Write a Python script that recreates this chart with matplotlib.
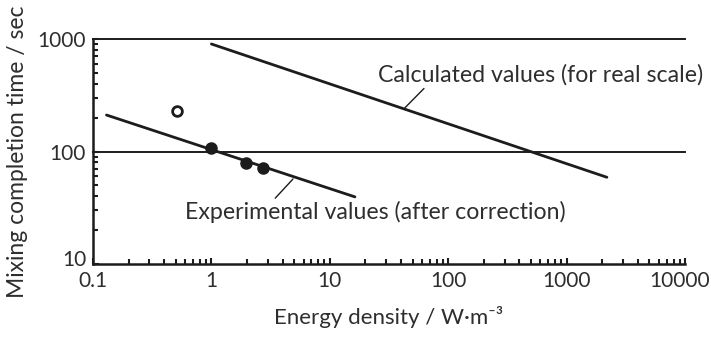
import matplotlib
matplotlib.use('Agg')
import matplotlib.pyplot as plt
from matplotlib.ticker import LogLocator, FixedLocator, NullFormatter
import matplotlib.transforms as mtransforms

# data (log-log)
calc_x = [1.0, 2190.0]
calc_y = [903.0, 59.0]

exp_line_x = [0.13, 16.3]
exp_line_y = [211.0, 39.5]

exp_pts_x = [0.99, 1.95, 2.74]
exp_pts_y = [108.0, 78.5, 71.8]

outlier_x = [0.51]
outlier_y = [229.0]

x_ticks = [0.1, 1, 10, 100, 1000, 10000]
x_labels = ['0.1', '1', '10', '100', '1000', '10000']
y_ticks = [10, 100, 1000]
y_labels = ['10', '100', '1000']

ink = '#1c1c1c'
txt = '#2e2e2e'
plt.rcParams['font.family'] = ['Lato', 'DejaVu Sans']

fig = plt.figure(figsize=(7.11, 3.38), dpi=100)
ax = fig.add_axes([93 / 711, 74 / 338, 592 / 711, 225 / 338])
ax.set_xscale('log')
ax.set_yscale('log')
ax.set_xlim(0.1, 10000)
ax.set_ylim(10, 1000)

for yv in (100, 1000):
    ax.axhline(yv, color=ink, lw=1.4, clip_on=False, zorder=1)

ax.plot(calc_x, calc_y, color=ink, lw=2.0, solid_capstyle='round')
ax.plot(exp_line_x, exp_line_y, color=ink, lw=2.0, solid_capstyle='round')
ax.plot(exp_pts_x, exp_pts_y, 'o', color=ink, ms=8)
ax.plot(outlier_x, outlier_y, 'o', mfc='white', mec=ink, mew=2, ms=7)

ax.annotate('Calculated values (for real scale)', xy=(43, 244), xytext=(25.5, 479),
            fontsize=16.7, color=txt, va='center', ha='left',
            arrowprops=dict(arrowstyle='-', color=ink, lw=1,
                            shrinkA=0, shrinkB=0, relpos=(0.15, 0.0)))
ax.annotate('Experimental values (after correction)', xy=(4.89, 57), xytext=(0.6, 29),
            fontsize=16.7, color=txt, va='center', ha='left',
            arrowprops=dict(arrowstyle='-', color=ink, lw=1,
                            shrinkA=0, shrinkB=0, relpos=(0.23, 1.0)))

ax.spines['top'].set_visible(False)
ax.spines['right'].set_visible(False)
for s in ('left', 'bottom'):
    ax.spines[s].set_linewidth(1.8)
    ax.spines[s].set_color(ink)

ax.xaxis.set_major_locator(FixedLocator(x_ticks))
ax.set_xticklabels(x_labels)
ax.yaxis.set_major_locator(FixedLocator(y_ticks))
ax.set_yticklabels(y_labels)
ax.xaxis.set_minor_locator(LogLocator(base=10, subs=range(2, 10), numticks=20))
ax.yaxis.set_minor_locator(LogLocator(base=10, subs=range(2, 10), numticks=20))
ax.xaxis.set_minor_formatter(NullFormatter())
ax.yaxis.set_minor_formatter(NullFormatter())
ax.tick_params(which='both', direction='in', color=ink, width=1.5,
               labelsize=15, labelcolor=txt)
ax.tick_params(which='major', length=4)
ax.tick_params(which='minor', length=3.5)
ax.tick_params(axis='x', pad=5)
ax.tick_params(axis='y', pad=5)

# lift the lowest y label so it clears "0.1", pull "10000" inside the frame
lab10 = ax.get_yticklabels()[0]
lab10.set_transform(lab10.get_transform() +
                    mtransforms.ScaledTranslation(0, 4 / 72, fig.dpi_scale_trans))
lab_last = ax.get_xticklabels()[-1]
lab_last.set_transform(lab_last.get_transform() +
                       mtransforms.ScaledTranslation(-4 / 72, 0, fig.dpi_scale_trans))

ax.set_xlabel('Energy density / W\u00b7m\u207b\u00b3', fontsize=16, color=txt, labelpad=11)
ax.set_ylabel('Mixing completion time / sec', fontsize=16.5, color=txt, labelpad=7)

fig.savefig('out.png', dpi=100)
